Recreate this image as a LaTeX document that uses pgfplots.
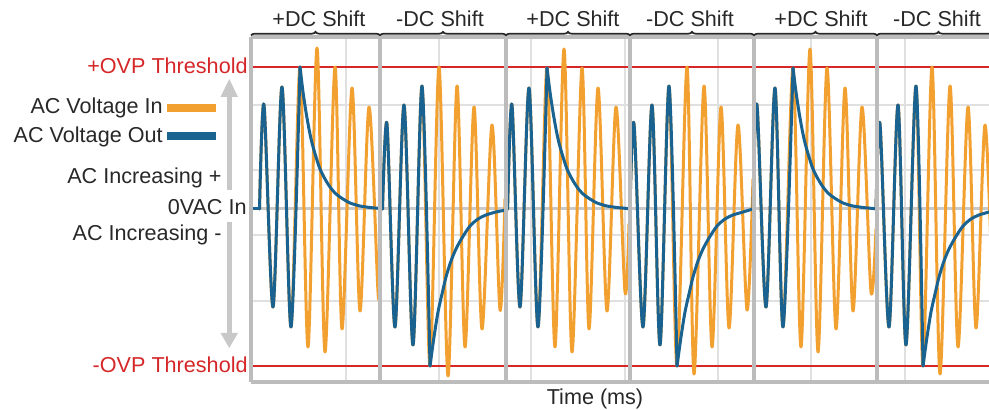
\documentclass[border=0pt]{standalone}
\usepackage{fontspec}
\setmainfont{Liberation Sans}
\usepackage{pgfplots}
\pgfplotsset{compat=1.18}
\usetikzlibrary{decorations.pathreplacing}
\definecolor{acin}{RGB}{242,160,48}
\definecolor{acout}{RGB}{26,98,143}
\definecolor{ovp}{RGB}{214,39,40}
\definecolor{frm}{RGB}{188,188,188}
\definecolor{grd}{RGB}{224,224,224}
\definecolor{arr}{RGB}{200,200,200}
\definecolor{txt}{RGB}{40,40,40}
\pgfplotsset{every axis plot/.append style={line width=1.5pt, line join=round, line cap=round}}

\begin{document}
\begin{tikzpicture}[font=\fontsize{10.8}{12}\selectfont]
\useasboundingbox (0,0) rectangle (494.5pt,205pt);
% background: grid, zero line, thresholds (1 unit = 1 px of the reference)
\begin{scope}[x=0.5pt,y=0.5pt]
  \foreach \gx in {346,439,531,625,718,811,905}
    \draw[grd, line width=0.6pt] (\gx,28) -- (\gx,373);
  \foreach \gy in {305,240,175,109}
    \draw[grd, line width=0.6pt] (251,\gy) -- (989,\gy);
  \draw[frm!80, line width=1.5pt] (251,201) -- (989,201);
  \draw[ovp, line width=1pt] (249,343) -- (989,343);
  \draw[ovp, line width=1pt] (249,44) -- (989,44);
\end{scope}

\begin{axis}[at={(125.5pt,14pt)}, anchor=south west, scale only axis,
  width=369pt, height=172.5pt, xmin=251, xmax=989, ymin=-173, ymax=172,
  hide axis, clip=false]
% AC voltage in
\addplot[acin, smooth] coordinates {(259.5,0) (264,104) (273,-98) (282,122) (291,-118) (300,142) (308,-138) (317,161) (325,-143) (335,142) (342,-120) (352,121) (360,-102) (369,102) (378,-83) (379.5,-70)};
\addplot[acin, smooth] coordinates {(382.5,0) (387,85) (395,-118) (404,104) (413,-136) (422,123) (430,-157) (439,142) (448,-167) (457,123) (465,-138) (474,102) (482,-120) (492,84) (500,-101) (505,10)};
\addplot[acin, smooth] coordinates {(507.6,0) (512,104) (520,-98) (529,121) (538,-118) (547,141) (555,-138) (564,160) (572,-143) (582,141) (589,-120) (598,121) (607,-102) (616,102) (625,-83) (629,-15)};
\addplot[acin, smooth] coordinates {(630,0) (634,85) (643,-118) (652,104) (660,-136) (669,123) (677,-157) (687,142) (694,-165) (704,123) (712,-138) (721,102) (729,-119) (738,84) (747,-101) (753,30)};
\addplot[acin, smooth] coordinates {(753,0) (757,104) (766,-98) (775,121) (783,-118) (793,141) (801,-138) (810,160) (818,-143) (827,141) (836,-120) (845,121) (853,-102) (862,102) (871,-83) (876,-20)};
\addplot[acin, smooth] coordinates {(876,0) (880,85) (889,-118) (898,104) (906,-136) (916,123) (923,-157) (932,142) (940,-165) (950,123) (958,-138) (968,102) (976,-119) (985,84) (993,-101)};
% AC voltage out
\addplot[acout] coordinates {(251,0) (259.5,0)};
\addplot[acout, smooth] coordinates {(259.5,0) (264,104) (273,-98) (282,122) (291,-118) (300,142)};
\addplot[acout, smooth] coordinates {(300,142) (303,117) (306,97) (309,80) (312,66) (316,52) (320,40) (325,30) (330,22) (336,15) (343,10) (350,6) (360,3) (370,1.5) (380,0.5) (382.5,0)};
\addplot[acout, smooth] coordinates {(382.5,0) (387,85) (395,-118) (404,104) (413,-136) (422,123) (430,-157)};
\addplot[acout, smooth] coordinates {(430,-157) (434,-128) (438,-103) (442,-85) (446,-68) (451,-52) (456,-40) (462,-29) (470,-17) (478,-10) (486,-6) (496,-3) (506,-1) (507.6,0)};
\addplot[acout, smooth] coordinates {(507.6,0) (512,104) (520,-98) (529,121) (538,-118) (547,141)};
\addplot[acout, smooth] coordinates {(547,141) (550,117) (553,97) (556,80) (559,66) (563,52) (567,40) (572,30) (577,22) (583,15) (590,10) (597,6) (607,3) (617,1.5) (627,0.5) (630,0)};
\addplot[acout, smooth] coordinates {(630,0) (634,85) (643,-118) (652,104) (660,-136) (669,123) (677,-157)};
\addplot[acout, smooth] coordinates {(677,-157) (681,-128) (685,-103) (689,-85) (693,-68) (698,-52) (703,-40) (709,-29) (717,-17) (725,-10) (733,-6) (743,-3) (753,0)};
\addplot[acout, smooth] coordinates {(753,0) (757,104) (766,-98) (775,121) (783,-118) (793,141)};
\addplot[acout, smooth] coordinates {(793,141) (796,117) (799,97) (802,80) (805,66) (809,52) (813,40) (818,30) (823,22) (829,15) (836,10) (843,6) (853,3) (863,1.5) (873,0.5) (876,0)};
\addplot[acout, smooth] coordinates {(876,0) (880,85) (889,-118) (898,104) (906,-136) (916,123) (923,-157)};
\addplot[acout, smooth] coordinates {(923,-157) (927,-128) (931,-103) (935,-85) (939,-68) (944,-52) (949,-40) (955,-29) (963,-17) (971,-10) (979,-6) (989,-3)};
\end{axis}

% frame, braces and annotations
\begin{scope}[x=0.5pt,y=0.5pt]
  \draw[frm, line width=1.75pt] (251,373) -- (989,373);
  \draw[frm, line width=1.75pt] (251,28) -- (989,28);
  \foreach \dx in {251,380,506,630,754,877}
    \draw[frm, line width=1.75pt] (\dx,28) -- (\dx,373);
  \foreach \a/\b in {251/380,380/506,506/630,630/754,754/877,877/1000}
    \draw[black!85, line width=0.85pt, decorate, decoration={brace, amplitude=1.8pt}] (\a,374.5) -- (\b,374.5);
  \foreach \cx/\lab in {319/+DC Shift,440/-DC Shift,573/+DC Shift,690/-DC Shift,821/+DC Shift,937/-DC Shift}
    \node[txt, anchor=base, inner sep=0pt] at (\cx,383) {\lab};
  \node[ovp, anchor=base east, inner sep=0pt] at (248,336) {+OVP Threshold};
  \node[ovp, anchor=base east, inner sep=0pt] at (248,37) {-OVP Threshold};
  \node[txt, anchor=base east, inner sep=0pt] at (163,296) {AC Voltage In};
  \node[txt, anchor=base east, inner sep=0pt] at (163,267) {AC Voltage Out};
  \fill[acin] (167,298) rectangle (216,306);
  \fill[acout] (167,270) rectangle (216,278);
  \node[txt, anchor=base east, inner sep=0pt] at (222,226) {AC Increasing +};
  \node[txt, anchor=base east, inner sep=0pt] at (247,195) {0VAC In};
  \node[txt, anchor=base east, inner sep=0pt] at (222,169) {AC Increasing -};
  \fill[arr] (227,220) rectangle (231.5,313);
  \fill[arr] (220.5,313) -- (238,313) -- (229.25,331) -- cycle;
  \fill[arr] (227,188) rectangle (231.5,77);
  \fill[arr] (220.5,77) -- (238,77) -- (229.25,62) -- cycle;
  \node[txt, anchor=base, inner sep=0pt] at (595,5) {Time (ms)};
\end{scope}
\end{tikzpicture}
\end{document}
